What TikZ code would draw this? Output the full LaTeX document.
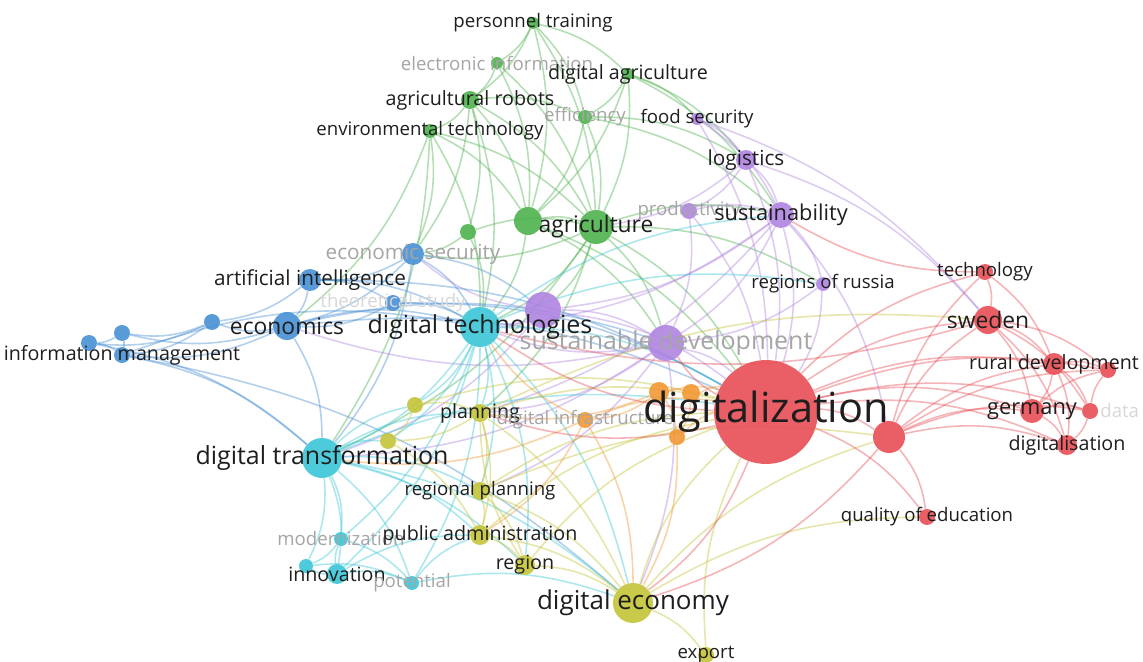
\documentclass[tikz,border=0pt]{standalone}
\usepackage{fontspec}
\setmainfont{Open Sans}
\usetikzlibrary{backgrounds}
\definecolor{vgreen}{RGB}{78,178,78}
\definecolor{vpurple}{RGB}{176,132,226}
\definecolor{vblue}{RGB}{72,144,212}
\definecolor{vcyan}{RGB}{58,198,214}
\definecolor{vyellow}{RGB}{196,196,56}
\definecolor{vorange}{RGB}{242,152,52}
\definecolor{vred}{RGB}{232,78,86}
\definecolor{txt}{RGB}{30,30,30}
\definecolor{dimtxt}{RGB}{165,165,165}
\definecolor{faint}{RGB}{215,215,215}

\begin{document}
\begin{tikzpicture}[
        x=0.02cm, y=-0.02cm,
        kw/.style={circle, inner sep=0pt, minimum size=#1*0.04cm, fill opacity=0.9},
        grn/.style={kw=#1, fill=vgreen},
        pur/.style={kw=#1, fill=vpurple},
        blu/.style={kw=#1, fill=vblue},
        cyn/.style={kw=#1, fill=vcyan},
        ylw/.style={kw=#1, fill=vyellow},
        org/.style={kw=#1, fill=vorange},
        rd/.style={kw=#1, fill=vred},
        lab/.style={inner sep=0pt, text=txt, font=\fontsize{#1}{#1}\selectfont},
        lab/.default=10.6,
        dimlab/.style={lab=#1, text=dimtxt},
        dimlab/.default=10.6,
        link/.style={line width=0.9pt, draw=#1, draw opacity=0.42}
    ]
    \useasboundingbox (0,0) rectangle (1143,662);

    % agriculture cluster
    \node[grn=6] (pt) at (533,23) {};
    \node[grn=6] (ei) at (497,63) {};
    \node[grn=6] (da) at (628,74) {};
    \node[grn=9] (ar) at (470,100) {};
    \node[grn=7] (ef) at (585,117) {};
    \node[grn=7] (et) at (430,131) {};
    \node[grn=8] (g1) at (468,232) {};
    \node[grn=14] (g2) at (528,221) {};
    \node[grn=17] (ag) at (596,227) {};

    % sustainability cluster
    \node[pur=6] (fs) at (697,119) {};
    \node[pur=10] (lg) at (746,160) {};
    \node[pur=8] (pr) at (689,211) {};
    \node[pur=13] (su) at (781,215) {};
    \node[pur=7] (rr) at (823,284) {};
    \node[pur=18] (p1) at (543,310) {};
    \node[pur=18] (sd) at (666,343) {};

    % economics cluster
    \node[blu=11] (es) at (413,254) {};
    \node[blu=11] (ai) at (310,280) {};
    \node[blu=8] (ts) at (393,303) {};
    \node[blu=14] (ec) at (287,326) {};
    \node[blu=8] (b1) at (212,322) {};
    \node[blu=8] (b2) at (122,333) {};
    \node[blu=8] (b3) at (89,343) {};
    \node[blu=8] (im) at (122,355) {};

    % digital technologies cluster
    \node[cyn=20] (dt) at (480,327) {};
    \node[cyn=20] (dtr) at (322,458) {};
    \node[cyn=7] (mo) at (341,539) {};
    \node[cyn=10] (in) at (337,574) {};
    \node[cyn=7] (c1) at (306,566) {};
    \node[cyn=7] (po) at (412,583) {};

    % digital economy cluster
    \node[ylw=8] (y1) at (415,405) {};
    \node[ylw=9] (pl) at (480,413) {};
    \node[ylw=8] (y2) at (388,441) {};
    \node[ylw=9] (rp) at (480,491) {};
    \node[ylw=10] (pa) at (480,535) {};
    \node[ylw=10] (re) at (525,565) {};
    \node[ylw=20] (de) at (633,603) {};
    \node[ylw=8] (ex) at (706,655) {};

    % infrastructure cluster
    \node[org=10] (o1) at (659,392) {};
    \node[org=9] (o2) at (691,393) {};
    \node[org=8] (di) at (585,420) {};
    \node[org=8] (o3) at (677,437) {};

    % digitalization cluster
    \node[rd=52] (dz) at (766,412) {};
    \node[rd=16] (r1) at (889,437) {};
    \node[rd=8] (te) at (985,272) {};
    \node[rd=14] (sw) at (988,320) {};
    \node[rd=11] (rv) at (1054,364) {};
    \node[rd=8] (r2) at (1108,370) {};
    \node[rd=12] (ge) at (1032,411) {};
    \node[rd=8] (dat) at (1090,411) {};
    \node[rd=10] (dg) at (1067,445) {};
    \node[rd=8] (qe) at (927,517) {};

    \begin{scope}[on background layer]
        \fill[white] (0,0) rectangle (1143,662);
        \foreach \a/\b in {pt/ei, pt/ar, pt/ef, pt/ag, pt/g2, pt/da, ei/ar, ei/ag, ei/g2, da/ef, da/ag, da/g2, da/fs, da/su,
                ar/et, ar/ag, ar/g2, ar/ef, ar/g1, ar/dt, et/g2, et/ag, et/dt, et/ec, et/es, ef/ag, ef/g2, ef/lg,
                g1/ag, g1/dt, g2/ag, g2/dt, g2/dz, ag/dt, ag/dz, ag/su, ag/sd, ag/pl, ag/dtr, ag/es,
                ag/p1, g2/sd, ef/su, da/lg, et/dtr, ar/es, ag/rr, g1/es}
            \draw[link=vgreen] (\a) to[bend left=15] (\b);
        \foreach \a/\b in {fs/lg, fs/su, fs/dz, lg/su, lg/dz, lg/pr, lg/ag, pr/su, pr/dz, su/dz, su/sd, su/rr, su/dt, su/p1,
                rr/dz, rr/sd, p1/dt, p1/dz, p1/sd, p1/dtr, sd/dz, sd/dt, sd/dtr, sd/de, sd/ec,
                lg/sw, fs/sw, pr/sd, su/pl, su/r1, sd/pl, sd/rp, p1/es}
            \draw[link=vpurple] (\a) to[bend left=15] (\b);
        \foreach \a/\b in {es/ai, es/ec, es/dt, es/dtr, ai/ec, ai/dt, ai/ts, ts/ec, ts/dt, ts/dz, ec/b1, ec/b2, ec/im, ec/dt,
                ec/dtr, ec/dz, b1/b2, b1/b3, b1/im, b2/b3, b2/im, b3/im, im/dtr, im/dt, ai/b1,
                ai/dz, ec/sd, im/de, b3/dtr, es/p1}
            \draw[link=vblue] (\a) to[bend left=15] (\b);
        \foreach \a/\b in {dt/dtr, dt/dz, dt/pl, dt/in, dt/mo, dt/po, dt/rp, dt/y1, dt/y2, dt/de, dtr/in, dtr/mo, dtr/c1,
                dtr/po, dtr/y1, dtr/y2, dtr/pl, dtr/rp, dtr/pa, dtr/dz, dtr/de, in/mo, in/c1, in/po, mo/c1, mo/po,
                po/pa, po/de, in/pa, c1/po, dt/su, dt/rr, dt/re, dtr/re}
            \draw[link=vcyan] (\a) to[bend left=15] (\b);
        \foreach \a/\b in {y1/pl, y1/y2, y1/dz, pl/y2, pl/rp, pl/pa, pl/dz, pl/de, rp/pa, rp/re, rp/dz, pa/re, pa/de, pa/dz,
                re/de, re/dz, de/ex, de/dz, ex/dz, de/r1, y2/pa, rp/de, re/pl, pl/sw, rp/r1, de/qe}
            \draw[link=vyellow] (\a) to[bend left=15] (\b);
        \foreach \a/\b in {o1/o2, o1/di, o1/o3, o2/o3, o1/dz, o2/dz, o3/dz, di/dz, di/dt, di/dtr, o1/pl, di/de, o3/de, di/pa}
            \draw[link=vorange] (\a) to[bend left=15] (\b);
        \foreach \a/\b in {dz/r1, dz/te, dz/sw, dz/rv, dz/ge, dz/dg, dz/qe, dz/r2, dz/dat, r1/sw, r1/rv, r1/ge, r1/dg, r1/qe,
                r1/te, r1/r2, r1/dat, te/sw, te/rv, sw/rv, sw/ge, sw/dg, sw/r2, sw/dat, rv/ge, rv/r2, rv/dg, rv/dat,
                ge/r2, ge/dat, ge/dg, dat/dg, dat/r2, dz/dt, dz/de, dz/sd, r1/de, te/su, sw/dt, dz/pl}
            \draw[link=vred] (\a) to[bend left=15] (\b);
    \end{scope}

    % labels
    \node[lab] (pt-t) at (pt) {personnel training};
    \node[dimlab] (ei-t) at (ei) {electronic information};
    \node[lab=11.2] (da-t) at (da) {digital agriculture};
    \node[lab=11.2] (ar-t) at (ar) {agricultural robots};
    \node[dimlab] (ef-t) at (ef) {efficiency};
    \node[lab] (et-t) at (et) {environmental technology};
    \node[lab=13] (ag-t) at (ag) {agriculture};
    \node[lab] (fs-t) at (fs) {food security};
    \node[lab=11.8] (lg-t) at (lg) {logistics};
    \node[dimlab] (pr-t) at (pr) {productivity};
    \node[lab=12.4] (su-t) at (su) {sustainability};
    \node[lab] (rr-t) at (rr) {regions of russia};
    \node[dimlab=14.2] (sd-t) at (sd) {sustainable development};
    \node[dimlab=11.8] (es-t) at (es) {economic security};
    \node[lab=11.8] (ai-t) at (ai) {artificial intelligence};
    \node[lab, text=faint] (ts-t) at (ts) {theoretical study};
    \node[lab=13] (ec-t) at (ec) {economics};
    \node[lab=11.2] (im-t) at (im) {information management};
    \node[lab=14.2] (dt-t) at (dt) {digital technologies};
    \node[lab=14.2] (dtr-t) at (dtr) {digital transformation};
    \node[dimlab] (mo-t) at (mo) {modernization};
    \node[lab=11.2] (in-t) at (in) {innovation};
    \node[dimlab] (po-t) at (po) {potential};
    \node[lab=11.2] (pl-t) at (pl) {planning};
    \node[lab] (rp-t) at (rp) {regional planning};
    \node[lab=11.2] (pa-t) at (pa) {public administration};
    \node[lab=11.2] (re-t) at (re) {region};
    \node[lab=14.8] (de-t) at (de) {digital economy};
    \node[lab] (ex-t) at (ex) {export};
    \node[dimlab] (di-t) at (di) {digital infrastructure};
    \node[lab=23.6] (dz-t) at (dz) {digitalization};
    \node[lab] (te-t) at (te) {technology};
    \node[lab=13] (sw-t) at (sw) {sweden};
    \node[lab=11.2] (rv-t) at (rv) {rural development};
    \node[lab=12.4] (ge-t) at (ge) {germany};
    \node[lab, text=faint, anchor=west] (dat-t) at (1100,411) {data};
    \node[lab=11.2] (dg-t) at (dg) {digitalisation};
    \node[lab] (qe-t) at (qe) {quality of education};
\end{tikzpicture}
\end{document}
